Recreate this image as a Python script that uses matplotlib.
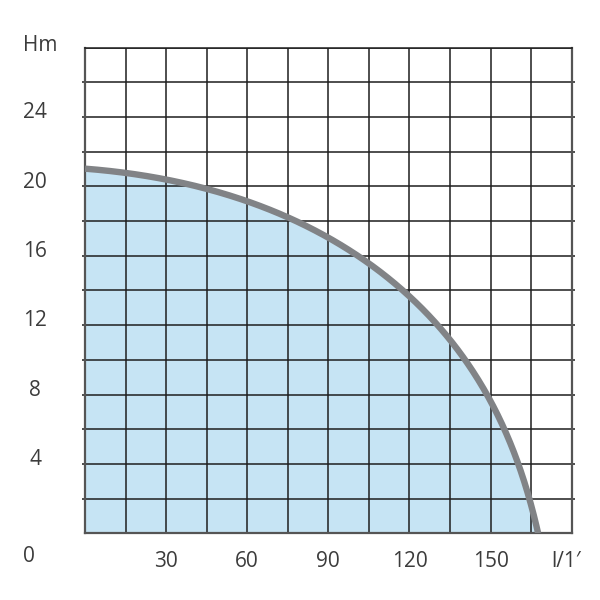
import numpy as np
import matplotlib.pyplot as plt

# pump curve: flow (l/min) vs head (m)
portata = [0, 15, 30, 45, 60, 75, 90, 105, 120, 135, 141.8, 149, 154.8, 159.7, 164, 168]
prevalenza = [21.0, 20.8, 20.4, 19.9, 19.1, 18.3, 17.0, 15.4, 13.7, 11.1, 10.0, 8.0, 6.0, 4.0, 2.0, 0.0]

x_ticks = [30, 60, 90, 120, 150]
y_ticks = [4, 8, 12, 16, 20, 24]

col_testo = "#3c3c3c"
col_fill = "#c6e4f4"
col_curva = "#818386"

plt.rcParams['font.family'] = ['Open Sans', 'DejaVu Sans']


# smooth the read points: least-squares fit of the radius vs angle
# in coordinates normalised by the end points
def curvaLiscia(xs, ys, grado=4, n=400):
    xs = np.array(xs, dtype=float)
    ys = np.array(ys, dtype=float)
    qmax, hmax = xs[-1], ys[0]
    u, v = xs / qmax, ys / hmax
    ang = np.arctan2(v, u)
    r = np.hypot(u, v)
    coef = np.polyfit(ang, r, grado)
    a = np.linspace(np.pi / 2, 0, n)
    rr = np.polyval(coef, a)
    return rr * np.cos(a) * qmax, rr * np.sin(a) * hmax


fig = plt.figure(figsize=(6, 6), dpi=100)
ax = fig.add_axes([0.1417, 0.1112, 0.8111, 0.8093])
ax.set_xlim(0, 180)
ax.set_ylim(0, 28)

qq, hh = curvaLiscia(portata, prevalenza)

ax.fill_between(qq, 0, hh, color=col_fill, lw=0, zorder=1)

# grid
for xv in np.arange(15, 180, 15):
    ax.vlines(xv, 0, 28, color="#1e1e1e", lw=1.1, zorder=2)
for yv in np.arange(2, 28, 2):
    ax.hlines(yv, -1.2, 181.2, color="#1e1e1e", lw=1.1, zorder=2, clip_on=False)
ax.hlines(28, 0, 180, color="#1e1e1e", lw=1.1, zorder=2)

ax.plot(qq, hh, color=col_curva, lw=4.6, solid_capstyle="butt", zorder=3)

for s in ax.spines.values():
    s.set_color("#555555")
    s.set_linewidth(1.6)
ax.spines["top"].set_color("#1e1e1e")
ax.spines["top"].set_linewidth(1.1)

ax.set_xticks([])
ax.set_yticks([])

fs = 15
# tick labels
for yv in y_ticks:
    ax.text(-18.5, yv + 0.25, str(yv), ha="center", va="center",
            fontsize=fs, color=col_testo, clip_on=False)
for xv in x_ticks:
    ax.text(xv, -1.65, str(xv), ha="center", va="center",
            fontsize=fs, color=col_testo, clip_on=False)
ax.text(-20.7, -1.35, "0", ha="center", va="center", fontsize=fs, color=col_testo)
ax.text(-16.6, 28.15, "Hm", ha="center", va="center", fontsize=fs, color=col_testo)
ax.text(178, -1.65, "l/1\u2032", ha="center", va="center", fontsize=fs, color=col_testo)

plt.savefig("out.png", dpi=100)
